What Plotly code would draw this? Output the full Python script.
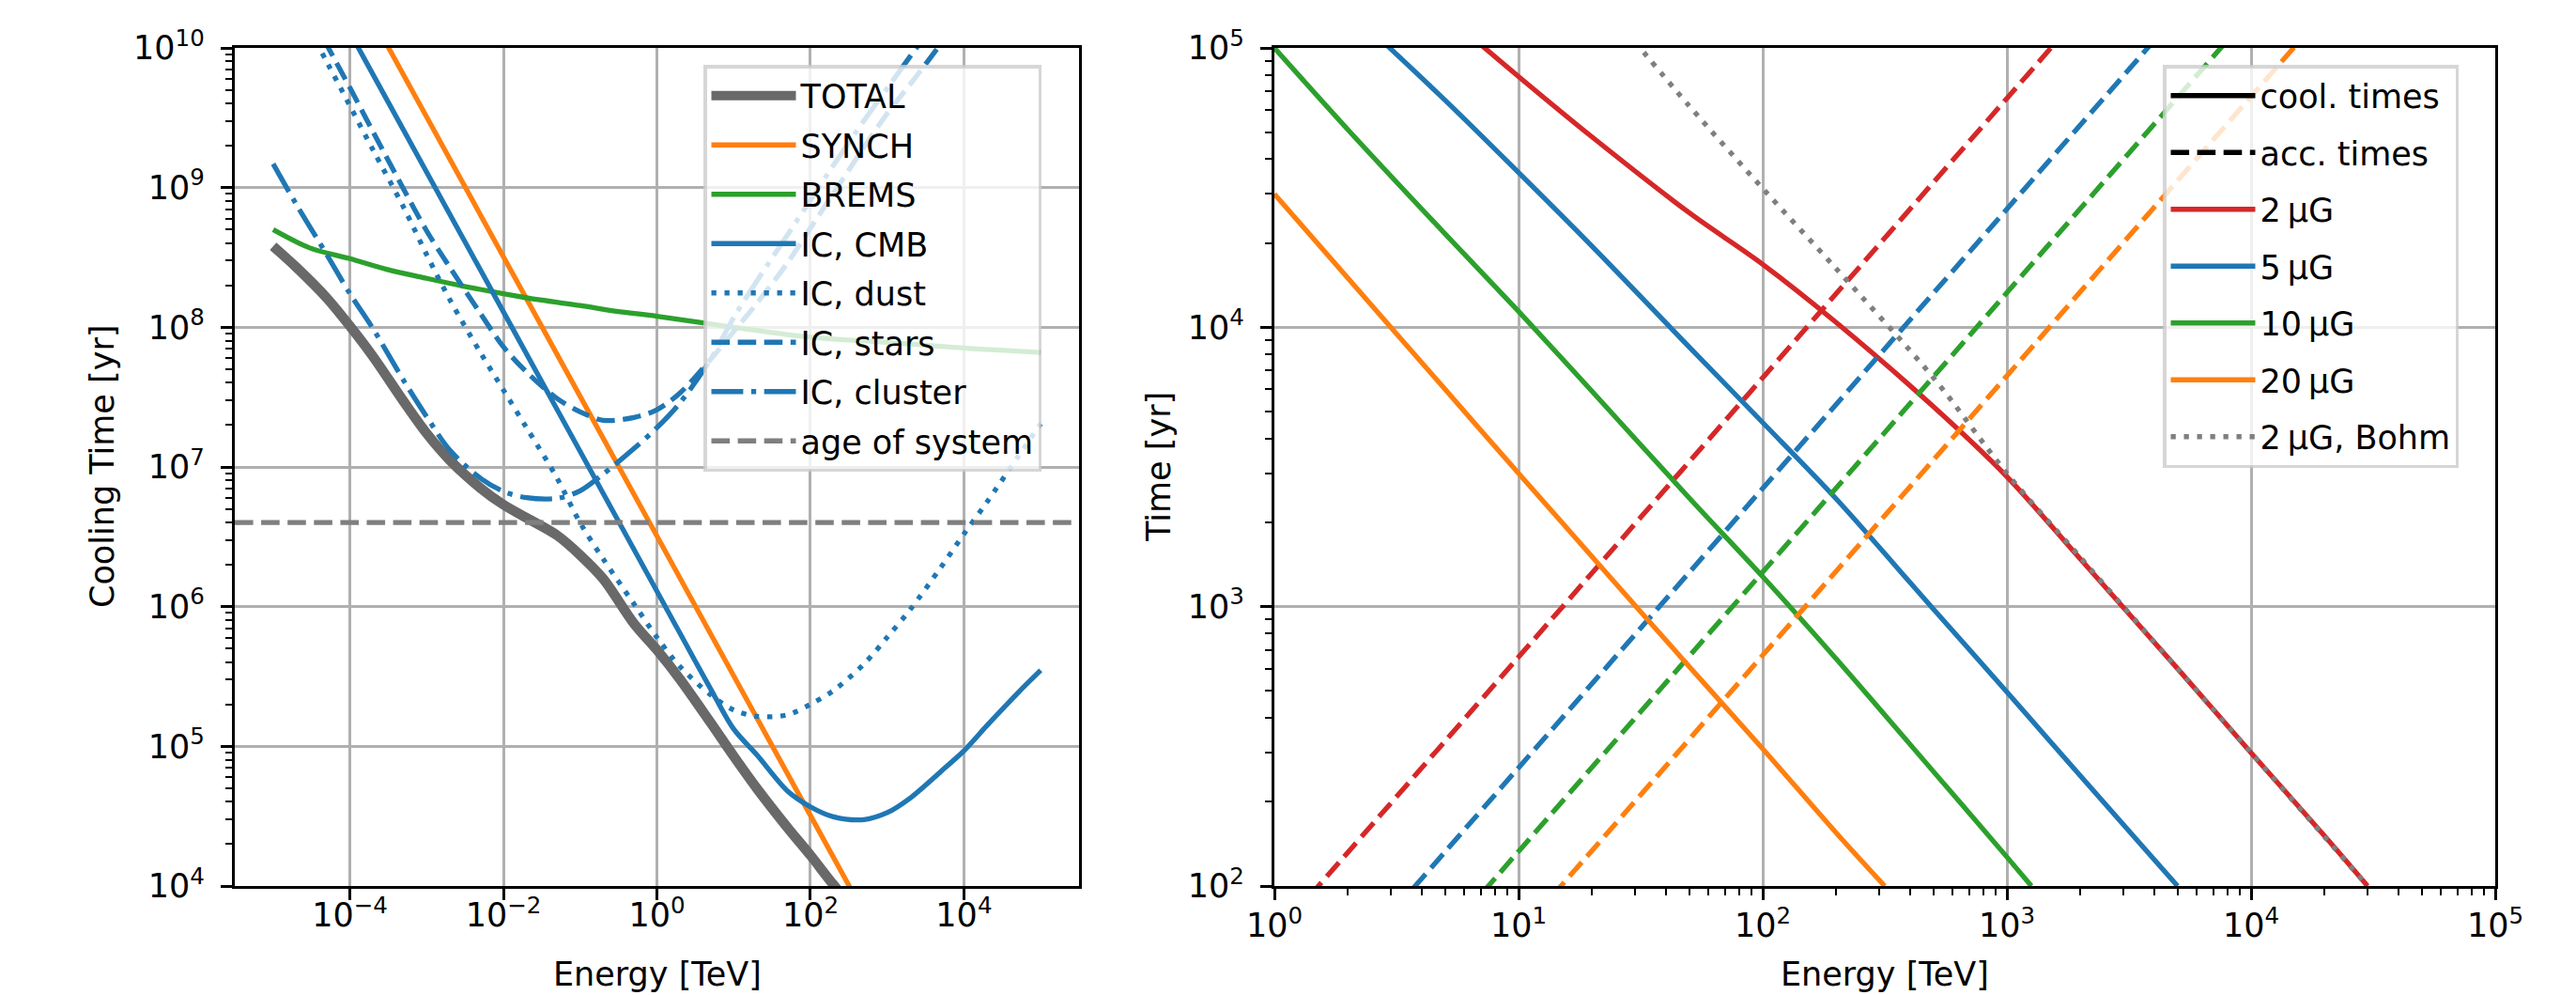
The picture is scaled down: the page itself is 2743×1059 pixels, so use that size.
import plotly.graph_objects as go

# ---------------- LEFT PANEL: cooling times, energy in TeV, time in yr ----------------
grid_energy = [1e-5, 2e-5, 5e-5, 1e-4, 2e-4, 5e-4, 1e-3, 2e-3, 5e-3, 1e-2, 2e-2, 5e-2,
               0.1, 0.2, 0.5, 1, 2, 5, 10, 20, 50, 100, 200, 500,
               1e3, 2e3, 5e3, 1e4, 2e4, 5e4, 1e5]

total_energy = grid_energy[:24]
total_time = [3.80e8, 2.69e8, 1.62e8, 1.02e8, 6.17e7, 2.95e7, 1.74e7, 1.12e7, 7.08e6, 5.37e6,
              4.32e6, 3.24e6, 2.34e6, 1.58e6, 7.59e5, 4.90e5, 3.02e5, 1.48e5, 8.51e4, 5.01e4,
              2.63e4, 1.66e4, 1.02e4, 5.62e3]

synch_energy = [1e-5, 1e-3, 1e-1, 10, 1e3, 1e5]
synch_time = [3.2e11, 3.2e9, 3.2e7, 3.2e5, 3.2e3, 32]

brems_energy = [1e-5, 3e-5, 1e-4, 3e-4, 1e-3, 3e-3, 1e-2, 3e-2, 0.1, 0.3, 1, 10, 100, 1e3, 1e4, 1e5]
brems_time = [5.0e8, 3.7e8, 3.1e8, 2.6e8, 2.24e8, 1.97e8, 1.74e8, 1.57e8, 1.43e8, 1.30e8,
              1.2e8, 1.0e8, 8.5e7, 7.8e7, 7.1e7, 6.6e7]

cmb_energy = [1e-5, 1e-4, 1e-3, 1e-2, 1e-1, 1, 2, 5, 10, 20, 50, 100, 200, 500,
              1e3, 2e3, 5e3, 1e4, 2e4, 5e4, 1e5]
cmb_time = [1.29e11, 1.29e10, 1.29e9, 1.29e8, 1.29e7, 1.29e6, 6.44e5, 2.58e5, 1.33e5, 8.7e4,
            4.8e4, 3.69e4, 3.13e4, 2.99e4, 3.35e4, 4.27e4, 6.6e4, 9.3e4, 1.41e5, 2.4e5, 3.5e5]

dust_energy = grid_energy
dust_time = [4.27e10, 2.04e10, 7.94e9, 3.85e9, 1.86e9, 7.24e8, 3.31e8, 1.58e8, 6.61e7, 3.55e7,
             1.91e7, 8.32e6, 3.98e6, 2.19e6, 1.05e6, 6.03e5, 3.72e5, 2.34e5, 1.82e5, 1.64e5,
             1.68e5, 2.0e5, 2.51e5, 3.89e5, 6.03e5, 9.55e5, 1.91e6, 3.31e6, 5.62e6, 1.17e7, 2.04e7]

stars_energy = grid_energy[:28]
stars_time = [5.25e10, 2.63e10, 1.05e10, 5.19e9, 2.51e9, 9.77e8, 4.90e8, 2.69e8, 1.26e8, 7.24e7,
              4.79e7, 3.09e7, 2.48e7, 2.16e7, 2.26e7, 2.57e7, 3.39e7, 5.89e7, 9.33e7, 1.48e8,
              2.88e8, 5.13e8, 9.12e8, 1.95e9, 3.39e9, 5.50e9, 1.07e10, 1.78e10]

cluster_energy = grid_energy[:27]
cluster_time = [1.48e9, 7.59e8, 3.31e8, 1.74e8, 9.77e7, 4.17e7, 2.29e7, 1.32e7, 8.32e6, 6.68e6,
                6.03e6, 5.96e6, 6.76e6, 8.91e6, 1.35e7, 1.91e7, 2.88e7, 5.89e7, 1.17e8, 2.14e8,
                4.57e8, 8.13e8, 1.45e9, 3.02e9, 5.13e9, 8.71e9, 1.74e10]

age_of_system = 4.0e6

left_xtick_vals = [1e-4, 1e-2, 1, 1e2, 1e4]
left_xtick_text = ["10<sup>−4</sup>", "10<sup>−2</sup>", "10<sup>0</sup>", "10<sup>2</sup>", "10<sup>4</sup>"]
left_ytick_vals = [1e4, 1e5, 1e6, 1e7, 1e8, 1e9, 1e10]
left_ytick_text = ["10<sup>4</sup>", "10<sup>5</sup>", "10<sup>6</sup>", "10<sup>7</sup>",
                   "10<sup>8</sup>", "10<sup>9</sup>", "10<sup>10</sup>"]

# ---------------- RIGHT PANEL: cooling vs acceleration times ----------------
cool_2uG_energy = [5, 10, 20, 50, 100, 200, 500, 1e3, 2e3, 5e3, 1e4, 2e4, 3e4]
cool_2uG_time = [1.32e5, 7.9e4, 4.8e4, 2.57e4, 1.68e4, 1.04e4, 5.2e3, 2.92e3, 1.48e3, 6.0e2,
                 3.0e2, 1.51e2, 1.0e2]
cool_5uG_energy = [2, 5, 10, 20, 50, 100, 200, 500, 1e3, 2e3, 5e3]
cool_5uG_time = [1.38e5, 6.5e4, 3.58e4, 1.95e4, 8.5e3, 4.56e3, 2.43e3, 9.8e2, 4.95e2, 2.48e2, 1.0e2]
cool_10uG_energy = [1, 2, 5, 10, 20, 50, 100, 200, 500, 1e3, 1260]
cool_10uG_time = [1.0e5, 5.1e4, 2.16e4, 1.14e4, 5.9e3, 2.45e3, 1.28e3, 6.5e2, 2.57e2, 1.27e2, 1.0e2]
cool_20uG_energy = [1, 2, 5, 10, 20, 50, 100, 200, 316]
cool_20uG_time = [3.0e4, 1.5e4, 6.0e3, 3.0e3, 1.51e3, 6.1e2, 3.1e2, 1.55e2, 1.0e2]
bohm_2uG_energy = [30, 50, 100, 200, 500, 1e3, 2e3, 5e3, 1e4, 2e4, 3e4]
bohm_2uG_time = [1.05e5, 6.2e4, 3.14e4, 1.62e4, 6.6e3, 3.0e3, 1.5e3, 6.0e2, 3.0e2, 1.5e2, 1.0e2]

acc_energy = [1, 10, 100, 1e3, 1e4, 1e5]
acc_2uG_time = [66, 660, 6.6e3, 6.6e4, 6.6e5, 6.6e6]
acc_5uG_time = [26.5, 265, 2.65e3, 2.65e4, 2.65e5, 2.65e6]
acc_10uG_time = [13.3, 133, 1.33e3, 1.33e4, 1.33e5, 1.33e6]
acc_20uG_time = [6.7, 67, 670, 6.7e3, 6.7e4, 6.7e5]

right_xtick_vals = [1, 10, 100, 1e3, 1e4, 1e5]
right_xtick_text = ["10<sup>0</sup>", "10<sup>1</sup>", "10<sup>2</sup>", "10<sup>3</sup>",
                    "10<sup>4</sup>", "10<sup>5</sup>"]
right_ytick_vals = [1e2, 1e3, 1e4, 1e5]
right_ytick_text = ["10<sup>2</sup>", "10<sup>3</sup>", "10<sup>4</sup>", "10<sup>5</sup>"]

# ---------------- styling ----------------
OFF = 8                      # page body margin of the html page
W, H = 2743 - OFF, 1059 - OFF
FONT = "DejaVu Sans"
FS = 35
LW = 5.3
BLUE, ORANGE, GREEN, RED, GRAY = "#1f77b4", "#ff7f0e", "#2ca02c", "#d62728", "#7f7f7f"
DASHED = "19.6px,8.5px"
DOTTED = "5.3px,8.7px"
DASHDOT = "33.9px,8.5px,5.3px,8.5px"


def px(p):
    return (p - OFF) / W


def py(p):
    return 1 - (p - OFF) / H


fig = go.Figure()


def add(x, y, name, color, width=LW, dash="solid", xa="x", ya="y", legend="legend",
        show=True):
    fig.add_trace(go.Scatter(
        x=x, y=y, name=name, mode="lines",
        line=dict(color=color, width=width, dash=dash, shape="spline", smoothing=0.9),
        xaxis=xa, yaxis=ya, legend=legend, legendgroup=name, showlegend=show,
        hoverinfo="skip"))


add(total_energy, total_time, "TOTAL", "#696969", width=10.6)
add(synch_energy, synch_time, "SYNCH", ORANGE)
add(brems_energy, brems_time, "BREMS", GREEN)
add(cmb_energy, cmb_time, "IC, CMB", BLUE)
add(dust_energy, dust_time, "IC, dust", BLUE, dash=DOTTED)
add(stars_energy, stars_time, "IC, stars", BLUE, dash=DASHED)
add(cluster_energy, cluster_time, "IC, cluster", BLUE, dash=DASHDOT)
add([10 ** -5.5, 10 ** 5.5], [age_of_system, age_of_system], "age of system", GRAY, dash=DASHED)

# right panel
R = dict(xa="x2", ya="y2", legend="legend2")
add([None], [None], "cool. times", "black", **R)
add([None], [None], "acc. times", "black", dash=DASHED, **R)
add(cool_2uG_energy, cool_2uG_time, "2\u2009µG", RED, **R)
add(acc_energy, acc_2uG_time, "acc 2", RED, dash=DASHED, show=False, **R)
add(cool_5uG_energy, cool_5uG_time, "5\u2009µG", BLUE, **R)
add(acc_energy, acc_5uG_time, "acc 5", BLUE, dash=DASHED, show=False, **R)
add(cool_10uG_energy, cool_10uG_time, "10\u2009µG", GREEN, **R)
add(acc_energy, acc_10uG_time, "acc 10", GREEN, dash=DASHED, show=False, **R)
add(cool_20uG_energy, cool_20uG_time, "20\u2009µG", ORANGE, **R)
add(acc_energy, acc_20uG_time, "acc 20", ORANGE, dash=DASHED, show=False, **R)
add(bohm_2uG_energy, bohm_2uG_time, "2\u2009µG, Bohm", GRAY, dash=DOTTED, **R)


def minor_vals(lo, hi):
    return [k * 10 ** d for d in range(lo, hi) for k in range(2, 10)]


def axis(domain, anchor, rng, tv, tt, minor=None, standoff=0):
    d = dict(type="log", domain=domain, anchor=anchor, range=rng, automargin=False,
             tickmode="array", tickvals=tv, ticktext=tt,
             showgrid=True, gridcolor="#b0b0b0", gridwidth=2.8,
             showline=True, linecolor="black", linewidth=2.8, mirror=True,
             ticks="outside", ticklen=12.3, tickwidth=2.8, tickcolor="black",
             zeroline=False, ticklabelstandoff=standoff,
             tickfont=dict(family=FONT, size=FS, color="black"))
    if minor is not None:
        d["minor"] = dict(tickmode="array", tickvals=minor, ticks="outside", ticklen=7,
                          tickwidth=2.1, tickcolor="black", showgrid=False)
    return d


xd1 = [px(250), px(1149)]
xd2 = [px(1357), px(2657)]
yd = [py(943), py(51)]

legend_common = dict(font=dict(family=FONT, size=FS, color="black"),
                     bgcolor="rgba(255,255,255,0.8)", bordercolor="rgba(204,204,204,0.8)",
                     borderwidth=3.5, xanchor="left", yanchor="top", xref="paper", yref="paper")

fig.update_layout(
    width=W, height=H,
    margin=dict(l=0, r=0, t=0, b=0, pad=0, autoexpand=False),
    paper_bgcolor="white", plot_bgcolor="white",
    font=dict(family=FONT, size=FS, color="black"),
    xaxis=axis(xd1, "y", [-5.5, 5.5], left_xtick_vals, left_xtick_text, standoff=-14),
    yaxis=axis(yd, "x", [4, 10], left_ytick_vals, left_ytick_text, minor_vals(4, 10), standoff=10),
    xaxis2=axis(xd2, "y2", [0, 5], right_xtick_vals, right_xtick_text, minor_vals(0, 5), standoff=-3),
    yaxis2=axis(yd, "x2", [2, 5], right_ytick_vals, right_ytick_text, minor_vals(2, 5), standoff=10),
    legend=dict(x=px(749), y=py(69), itemwidth=90, tracegroupgap=4, **legend_common),
    legend2=dict(x=px(2303), y=py(69), itemwidth=90, tracegroupgap=12, **legend_common),
    showlegend=True,
)

ann = dict(xref="paper", yref="paper", showarrow=False,
           font=dict(family=FONT, size=FS, color="black"))
fig.add_annotation(text="Energy [TeV]", x=px((250 + 1149) / 2), y=py(1037),
                   xanchor="center", yanchor="middle", **ann)
fig.add_annotation(text="Energy [TeV]", x=px((1357 + 2657) / 2), y=py(1037),
                   xanchor="center", yanchor="middle", **ann)
fig.add_annotation(text="Cooling Time [yr]", x=px(109), y=py(497), textangle=-90,
                   xanchor="center", yanchor="middle", **ann)
fig.add_annotation(text="Time [yr]", x=px(1234), y=py(497), textangle=-90,
                   xanchor="center", yanchor="middle", **ann)

fig.write_html("out.html")
